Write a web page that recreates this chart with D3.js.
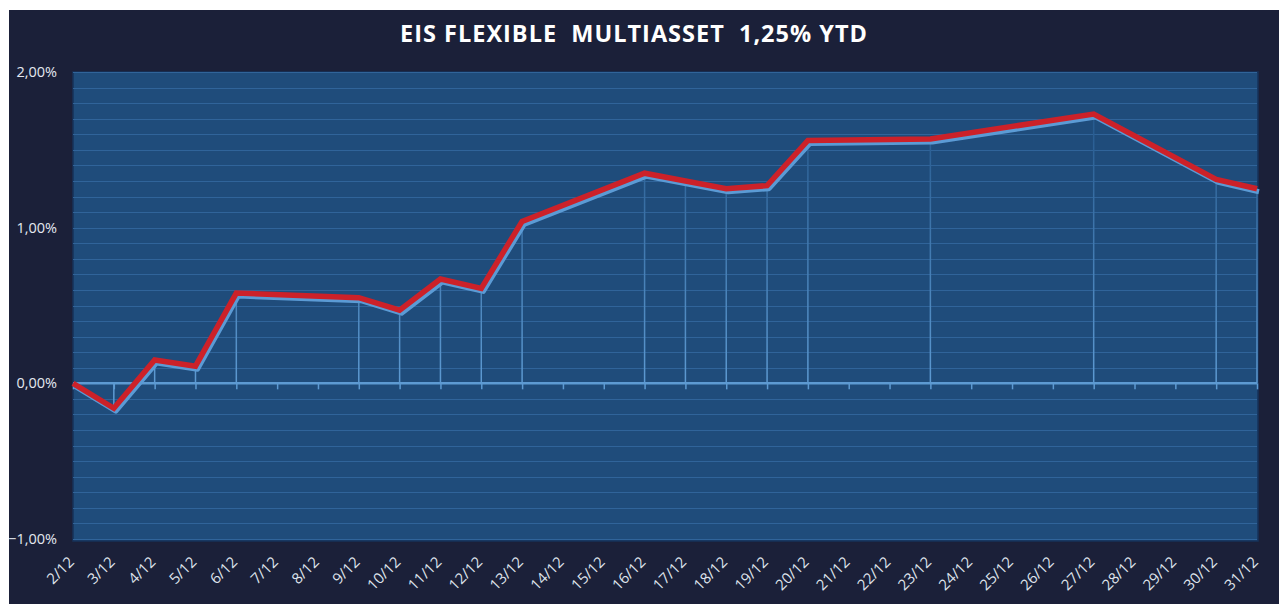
<!DOCTYPE html>
<html>
<head>
<meta charset="utf-8">
<script src="https://d3js.org/d3.v7.min.js"></script>
<style>
  body { margin: 0; background: #ffffff; }
  svg text { font-family: "Open Sans", sans-serif; }
</style>
</head>
<body>
<div id="chart"></div>
<script>
// every date on the axis
var dates = ["2/12","3/12","4/12","5/12","6/12","7/12","8/12","9/12","10/12","11/12",
  "12/12","13/12","14/12","15/12","16/12","17/12","18/12","19/12","20/12","21/12",
  "22/12","23/12","24/12","25/12","26/12","27/12","28/12","29/12","30/12","31/12"];
// YTD return in %, null = no quote that day
var ytd = [0.00, -0.16, 0.15, 0.11, 0.58, null, null, 0.55, 0.47, 0.67,
  0.61, 1.04, null, null, 1.35, 1.30, 1.25, 1.27, 1.56, null,
  null, 1.57, null, null, null, 1.73, null, null, 1.31, 1.25];
var yLabels = [2, 1, 0, -1];
var title = "EIS FLEXIBLE  MULTIASSET  1,25% YTD";

var W = 1279, H = 604;
var plot = { left: 73, right: 1257, top: 72, bottom: 539 };

var svg = d3.select("#chart").append("svg")
  .attr("width", W).attr("height", H);

// navy frame
svg.append("rect").attr("x", 9).attr("y", 10)
  .attr("width", W - 9).attr("height", H - 10).attr("fill", "#1b2039");

var x = d3.scalePoint().domain(dates).range([plot.left, plot.right]);
var y = d3.scaleLinear().domain([-1, 2]).range([plot.bottom, plot.top]);

// plot area
svg.append("rect")
  .attr("x", plot.left).attr("y", plot.top)
  .attr("width", plot.right - plot.left + 1).attr("height", plot.bottom - plot.top + 2)
  .attr("fill", "#1f4c7b").attr("stroke", "#17325a").attr("stroke-width", 1.5);

// minor gridlines every 0,1%
var grid = d3.range(-10, 21).map(function(d) { return d / 10; });
svg.append("g").selectAll("line").data(grid).enter().append("line")
  .attr("x1", plot.left).attr("x2", plot.right)
  .attr("y1", function(d) { return Math.round(y(d)) + 0.5; })
  .attr("y2", function(d) { return Math.round(y(d)) + 0.5; })
  .attr("stroke", "#30649a").attr("stroke-width", 1);

// y labels
svg.append("g").selectAll("text").data(yLabels).enter().append("text")
  .attr("x", 57).attr("y", function(d) { return y(d); })
  .attr("dy", "0.35em").attr("text-anchor", "end")
  .attr("fill", "#e4e8f0").attr("font-size", 14.5)
  .text(function(d) { return d3.format(".2f")(d).replace(".", ",") + "%"; });

var pts = dates.map(function(d, i) { return { date: d, v: ytd[i] }; })
  .filter(function(d) { return d.v !== null; });

// drop lines
var defs = svg.append("defs");
var grad = defs.append("linearGradient").attr("id", "drop")
  .attr("gradientUnits", "userSpaceOnUse")
  .attr("x1", 0).attr("x2", 0).attr("y1", y(1.8)).attr("y2", y(0));
grad.append("stop").attr("offset", "0%").attr("stop-color", "#23568a");
grad.append("stop").attr("offset", "100%").attr("stop-color", "#5d9ad2");

svg.append("g").selectAll("line").data(pts).enter().append("line")
  .attr("x1", function(d) { return x(d.date); })
  .attr("x2", function(d) { return x(d.date); })
  .attr("y1", function(d) { return y(d.v); })
  .attr("y2", y(0))
  .attr("stroke", "url(#drop)").attr("stroke-width", 1.5);

// zero axis + ticks
var axis = svg.append("g").attr("transform", "translate(0," + y(0) + ")")
  .call(d3.axisBottom(x).tickSize(6).tickFormat(""));
axis.select(".domain").attr("stroke", "#5d9ad2").attr("stroke-width", 2.5)
  .attr("d", "M" + plot.left + ",0H" + plot.right);
axis.selectAll(".tick line").attr("stroke", "#5d9ad2").attr("stroke-width", 1.5);

// x labels
svg.append("g").selectAll("text").data(dates).enter().append("text")
  .attr("transform", function(d) { return "translate(" + (x(d) + 2) + ",563) rotate(-45)"; })
  .attr("text-anchor", "end")
  .attr("fill", "#dfe3ec").attr("font-size", 15)
  .text(function(d) { return d; });

var line = d3.line()
  .x(function(d) { return x(d.date); })
  .y(function(d) { return y(d.v); });

// shadow then red line
svg.append("path").datum(pts).attr("d", line)
  .attr("transform", "translate(2,3)")
  .attr("fill", "none").attr("stroke", "#5b9bd5").attr("stroke-width", 5)
  .attr("stroke-linejoin", "round");
svg.append("path").datum(pts).attr("d", line)
  .attr("fill", "none").attr("stroke", "#cc2129").attr("stroke-width", 5.5)
  .attr("stroke-linejoin", "miter");

// title
svg.append("text").attr("x", 634).attr("y", 42)
  .attr("text-anchor", "middle").attr("fill", "#ffffff")
  .attr("font-size", 23.5).attr("font-weight", "bold")
  .attr("letter-spacing", 1)
  .attr("xml:space", "preserve")
  .text(title);
</script>
</body>
</html>
